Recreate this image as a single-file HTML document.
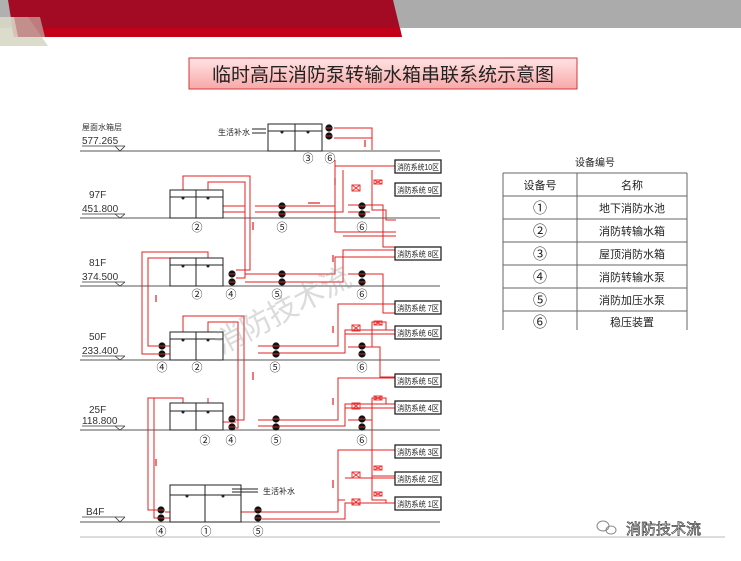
<!DOCTYPE html>
<html><head><meta charset="utf-8"><style>
html,body{margin:0;padding:0;background:#fff;width:741px;height:561px;overflow:hidden}
svg{display:block}
text{font-family:"Liberation Sans","Noto Sans CJK SC",sans-serif}
</style></head><body>
<svg width="741" height="561" viewBox="0 0 741 561" xmlns="http://www.w3.org/2000/svg">
<defs>
<linearGradient id="tg" x1="0" y1="0" x2="0" y2="1"><stop offset="0" stop-color="#ffe4e4"/><stop offset="1" stop-color="#f8a8a8"/></linearGradient>
<g id="pump"><circle cx="0" cy="-4" r="3.6" fill="#111"/><circle cx="0" cy="4" r="3.6" fill="#111"/><line x1="-3" y1="-4" x2="3" y2="-4" stroke="#e33" stroke-width="0.8"/><line x1="-3" y1="4" x2="3" y2="4" stroke="#e33" stroke-width="0.8"/></g>
<g id="valve"><rect x="-4" y="-3" width="8" height="6" fill="none" stroke="#e33"/><line x1="-4" y1="-3" x2="4" y2="3" stroke="#e33"/><line x1="-4" y1="3" x2="4" y2="-3" stroke="#e33"/></g>
<g id="sv"><rect x="-4" y="-2" width="8" height="4" fill="none" stroke="#e33"/><line x1="-4" y1="-2" x2="4" y2="2" stroke="#e33"/><line x1="-4" y1="2" x2="4" y2="-2" stroke="#e33"/></g>
</defs>
<!-- header -->
<rect x="0" y="0" width="741" height="28" fill="#ababab"/>
<polygon points="0,0 12,0 14,17 0,17" fill="#b0b0b0"/>
<polygon points="8,0 393,0 402,37 14,37" fill="#a30a24"/>
<polygon points="12,28 400,28 402,37 14,37" fill="#c20018"/>
<polygon points="0,17 28,17 48,46 0,46" fill="#d8d8c8" opacity="0.9"/>
<polygon points="14,17 40,17 45,37 18,37" fill="#c08a88" opacity="0.9"/>
<!-- title -->
<rect x="189" y="58" width="388" height="31" fill="url(#tg)" stroke="#d03a3a" stroke-width="1"/>
<text x="383" y="81" font-size="19" text-anchor="middle" fill="#222">临时高压消防泵转输水箱串联系统示意图</text>

<!-- floor lines -->
<g stroke="#555" stroke-width="1">
<line x1="80" y1="151" x2="440" y2="151"/><line x1="80" y1="218" x2="440" y2="218"/>
<line x1="80" y1="286" x2="440" y2="286"/><line x1="80" y1="360" x2="440" y2="360"/>
<line x1="80" y1="430" x2="440" y2="430"/><line x1="80" y1="522" x2="440" y2="522"/>
</g>
<g stroke="#333" stroke-width="0.8" fill="none">
<line x1="82" y1="146" x2="125" y2="146"/><polyline points="115,146 120,151 125,146"/>
<line x1="82" y1="214" x2="125" y2="214"/><polyline points="115,214 120,218 125,214"/>
<line x1="82" y1="282" x2="125" y2="282"/><polyline points="115,282 120,286 125,282"/>
<line x1="82" y1="356" x2="125" y2="356"/><polyline points="115,356 120,360 125,356"/>
<line x1="82" y1="426" x2="125" y2="426"/><polyline points="115,426 120,430 125,426"/>
<line x1="82" y1="517" x2="125" y2="517"/><polyline points="115,517 120,522 125,517"/>
</g>
<g font-size="10" fill="#333">
<text x="82" y="130" font-size="8">屋面水箱层</text><text x="82" y="144">577.265</text>
<text x="89" y="198">97F</text><text x="82" y="212">451.800</text>
<text x="89" y="266">81F</text><text x="82" y="280">374.500</text>
<text x="89" y="340">50F</text><text x="82" y="354">233.400</text>
<text x="89" y="413">25F</text><text x="82" y="424">118.800</text>
<text x="86" y="515">B4F</text>
</g>

<!-- red pipes -->
<g stroke="#e02020" stroke-width="1" fill="none">
<polyline points="334,128 372,128 372,150"/><polyline points="334,138 372,138"/>
<polyline points="372,170 372,210 386,210 386,220 396,220"/>
<polyline points="335,160 335,232 392,232 396,232"/>
<polyline points="343,166 396,166"/>
<polyline points="183,193 183,176 250,176 250,270 236,270"/>
<polyline points="208,196 208,182 245,182 245,278 236,278"/>
<polyline points="183,210 183,206 245,206"/>
<polyline points="208,214 208,212 245,212"/>
<polyline points="255,206 335,206 335,166 396,166"/><polyline points="255,212 343,212 343,170"/>
<polyline points="348,205 383,205 383,247 396,247"/><polyline points="348,212 370,212"/>
<line x1="343" y1="236" x2="396" y2="236"/>
<polyline points="183,263 183,258 148,258 148,346 158,346"/>
<polyline points="208,263 208,252 142,252 142,354 158,354"/>
<polyline points="245,274 335,274 335,257 396,257"/>
<polyline points="245,282 343,282 343,250 396,250"/>
<polyline points="348,274 383,274 383,313 396,313"/>
<polyline points="183,338 183,316 244,316 244,420 236,420"/>
<polyline points="208,338 208,322 238,322 238,428 236,428"/>
<polyline points="166,346 183,346 183,352"/><polyline points="166,354 208,354 208,356"/>
<polyline points="258,346 338,346 338,304 396,304"/>
<polyline points="258,353 345,353 345,330 396,330"/>
<polyline points="345,334 396,334"/>
<polyline points="348,347 372,347 372,322 386,322 386,330 396,330"/>
<polyline points="372,347 380,347 380,377 396,377"/>
<polyline points="183,405 183,398 148,398 148,510 157,510"/>
<polyline points="208,405 208,398"/>
<polyline points="183,428 183,422 236,422"/><polyline points="208,428 208,426"/>
<polyline points="258,420 338,420 338,378 396,378"/>
<polyline points="258,426 345,426 345,404 396,404"/><line x1="345" y1="408" x2="396" y2="408"/>
<polyline points="348,420 372,420 372,398 386,398 386,404"/>
<polyline points="372,420 372,476 396,476"/><polyline points="372,450 378,450"/>
<polyline points="154,398 154,518 161,518"/>
<polyline points="165,512 208,512 208,518"/><polyline points="165,518 180,518"/>
<polyline points="240,512 262,512 338,512 338,450 396,450"/>
<polyline points="262,519 345,519 345,503 396,503"/>
<polyline points="345,478 396,478"/><polyline points="338,500 345,500"/>
<polyline points="372,476 372,500 386,500 386,503"/>
</g>
<g stroke="#e02020" stroke-width="1.2">
<line x1="365" y1="140" x2="365" y2="147"/><line x1="335" y1="185" x2="335" y2="178"/>
<line x1="308" y1="203" x2="320" y2="203"/><line x1="253" y1="230" x2="253" y2="222"/>
<line x1="333" y1="262" x2="333" y2="255"/><line x1="156" y1="302" x2="156" y2="295"/>
<line x1="333" y1="333" x2="333" y2="326"/><line x1="253" y1="380" x2="253" y2="372"/>
<line x1="333" y1="405" x2="333" y2="398"/><line x1="156" y1="466" x2="156" y2="459"/>
<line x1="333" y1="488" x2="333" y2="480"/>
</g>
<use href="#valve" x="356" y="188"/><use href="#sv" x="378" y="182"/>
<use href="#valve" x="356" y="328"/><use href="#sv" x="378" y="323"/>
<use href="#valve" x="356" y="406"/><use href="#sv" x="378" y="398"/>
<use href="#valve" x="356" y="475"/><use href="#sv" x="378" y="468"/>
<use href="#valve" x="356" y="502"/><use href="#sv" x="378" y="494"/>

<!-- tanks -->
<g stroke="#222" stroke-width="1" fill="#fff">
<rect x="268" y="124" width="54" height="27"/><line x1="295" y1="124" x2="295" y2="151"/><line x1="268" y1="131" x2="322" y2="131"/>
<rect x="170" y="190" width="53" height="28"/><line x1="196" y1="190" x2="196" y2="218"/><line x1="170" y1="197" x2="223" y2="197"/>
<rect x="170" y="258" width="53" height="28"/><line x1="196" y1="258" x2="196" y2="286"/><line x1="170" y1="265" x2="223" y2="265"/>
<rect x="170" y="332" width="53" height="28"/><line x1="196" y1="332" x2="196" y2="360"/><line x1="170" y1="339" x2="223" y2="339"/>
<rect x="170" y="403" width="53" height="27"/><line x1="196" y1="403" x2="196" y2="430"/><line x1="170" y1="411" x2="223" y2="411"/>
<rect x="170" y="485" width="71" height="37"/><line x1="205" y1="485" x2="205" y2="522"/><line x1="170" y1="495" x2="241" y2="495"/>
</g>
<g fill="#222">
<circle cx="282" cy="132" r="1.5"/><circle cx="308" cy="132" r="1.5"/>
<circle cx="183" cy="198" r="1.5"/><circle cx="208" cy="198" r="1.5"/>
<circle cx="183" cy="266" r="1.5"/><circle cx="208" cy="266" r="1.5"/>
<circle cx="183" cy="340" r="1.5"/><circle cx="208" cy="340" r="1.5"/>
<circle cx="183" cy="412" r="1.5"/><circle cx="208" cy="412" r="1.5"/>
<circle cx="187" cy="496" r="1.5"/><circle cx="223" cy="496" r="1.5"/>
</g>
<g stroke="#222" stroke-width="1"><line x1="252" y1="129" x2="266" y2="129"/><line x1="252" y1="133" x2="266" y2="133"/>
<line x1="232" y1="489" x2="258" y2="489"/><line x1="232" y1="492" x2="258" y2="492"/></g>
<text x="218" y="135" font-size="8" fill="#222">生活补水</text>
<text x="263" y="494" font-size="8" fill="#222">生活补水</text>

<use href="#pump" x="329" y="132"/>
<use href="#pump" x="282" y="210"/><use href="#pump" x="362" y="210"/>
<use href="#pump" x="232" y="278"/><use href="#pump" x="282" y="278"/><use href="#pump" x="362" y="278"/>
<use href="#pump" x="162" y="350"/><use href="#pump" x="276" y="350"/><use href="#pump" x="362" y="350"/>
<use href="#pump" x="232" y="423"/><use href="#pump" x="276" y="423"/><use href="#pump" x="362" y="423"/>
<use href="#pump" x="161" y="514"/><use href="#pump" x="258" y="514"/>

<g font-size="11" fill="#222" text-anchor="middle">
<text x="308" y="162">③</text><text x="330" y="162">⑥</text>
<text x="197" y="231">②</text><text x="282" y="231">⑤</text><text x="362" y="231">⑥</text>
<text x="197" y="298">②</text><text x="231" y="298">④</text><text x="277" y="298">⑤</text><text x="362" y="298">⑥</text>
<text x="162" y="371">④</text><text x="197" y="371">②</text><text x="275" y="371">⑤</text><text x="362" y="371">⑥</text>
<text x="205" y="444">②</text><text x="231" y="444">④</text><text x="276" y="444">⑤</text><text x="362" y="444">⑥</text>
<text x="161" y="535">④</text><text x="206" y="535">①</text><text x="258" y="535">⑤</text>
</g>

<!-- zone boxes -->
<g fill="#fff" stroke="#222" stroke-width="1.3">
<rect x="395" y="160" width="46" height="13"/><rect x="395" y="183" width="46" height="13"/>
<rect x="395" y="247" width="46" height="13"/><rect x="395" y="301" width="46" height="13"/>
<rect x="395" y="326" width="46" height="13"/><rect x="395" y="374" width="46" height="13"/>
<rect x="395" y="401" width="46" height="13"/><rect x="395" y="445" width="46" height="13"/>
<rect x="395" y="472" width="46" height="13"/><rect x="395" y="497" width="46" height="13"/>
</g>
<g font-size="8" fill="#222">
<text x="397" y="170" textLength="42" lengthAdjust="spacingAndGlyphs">消防系统10区</text>
<text x="397" y="193" textLength="42" lengthAdjust="spacingAndGlyphs">消防系统 9区</text>
<text x="397" y="257" textLength="42" lengthAdjust="spacingAndGlyphs">消防系统 8区</text>
<text x="397" y="311" textLength="42" lengthAdjust="spacingAndGlyphs">消防系统 7区</text>
<text x="397" y="336" textLength="42" lengthAdjust="spacingAndGlyphs">消防系统 6区</text>
<text x="397" y="384" textLength="42" lengthAdjust="spacingAndGlyphs">消防系统 5区</text>
<text x="397" y="411" textLength="42" lengthAdjust="spacingAndGlyphs">消防系统 4区</text>
<text x="397" y="455" textLength="42" lengthAdjust="spacingAndGlyphs">消防系统 3区</text>
<text x="397" y="482" textLength="42" lengthAdjust="spacingAndGlyphs">消防系统 2区</text>
<text x="397" y="507" textLength="42" lengthAdjust="spacingAndGlyphs">消防系统 1区</text>
</g>

<text x="200" y="330" font-size="30" fill="#999" opacity="0.35" transform="rotate(-28 260 300)">消防技术流</text>

<!-- table -->
<text x="595" y="166" font-size="10" text-anchor="middle" fill="#222">设备编号</text>
<g stroke="#666" stroke-width="1">
<line x1="503" y1="173" x2="687" y2="173"/><line x1="503" y1="196" x2="687" y2="196"/>
<line x1="503" y1="219" x2="687" y2="219"/><line x1="503" y1="242" x2="687" y2="242"/>
<line x1="503" y1="265" x2="687" y2="265"/><line x1="503" y1="288" x2="687" y2="288"/>
<line x1="503" y1="311" x2="687" y2="311"/>
<line x1="503" y1="173" x2="503" y2="330"/><line x1="577" y1="173" x2="577" y2="330"/><line x1="687" y1="173" x2="687" y2="330"/>
</g>
<g font-size="11" fill="#222" text-anchor="middle">
<text x="540" y="189">设备号</text><text x="632" y="189">名称</text>
<text x="540" y="213" font-size="14">①</text><text x="632" y="212">地下消防水池</text>
<text x="540" y="236" font-size="14">②</text><text x="632" y="235">消防转输水箱</text>
<text x="540" y="259" font-size="14">③</text><text x="632" y="258">屋顶消防水箱</text>
<text x="540" y="282" font-size="14">④</text><text x="632" y="281">消防转输水泵</text>
<text x="540" y="305" font-size="14">⑤</text><text x="632" y="304">消防加压水泵</text>
<text x="540" y="327" font-size="14">⑥</text><text x="632" y="326">稳压装置</text>
</g>

<line x1="80" y1="537" x2="725" y2="537" stroke="#bbb" stroke-width="1"/>
<g fill="none" stroke="#888" stroke-width="1"><ellipse cx="603" cy="526" rx="6" ry="5"/><ellipse cx="611" cy="530" rx="5" ry="4"/></g>
<text x="626" y="534" font-size="15" fill="#fff" stroke="#444" stroke-width="0.7">消防技术流</text>
</svg>
</body></html>
